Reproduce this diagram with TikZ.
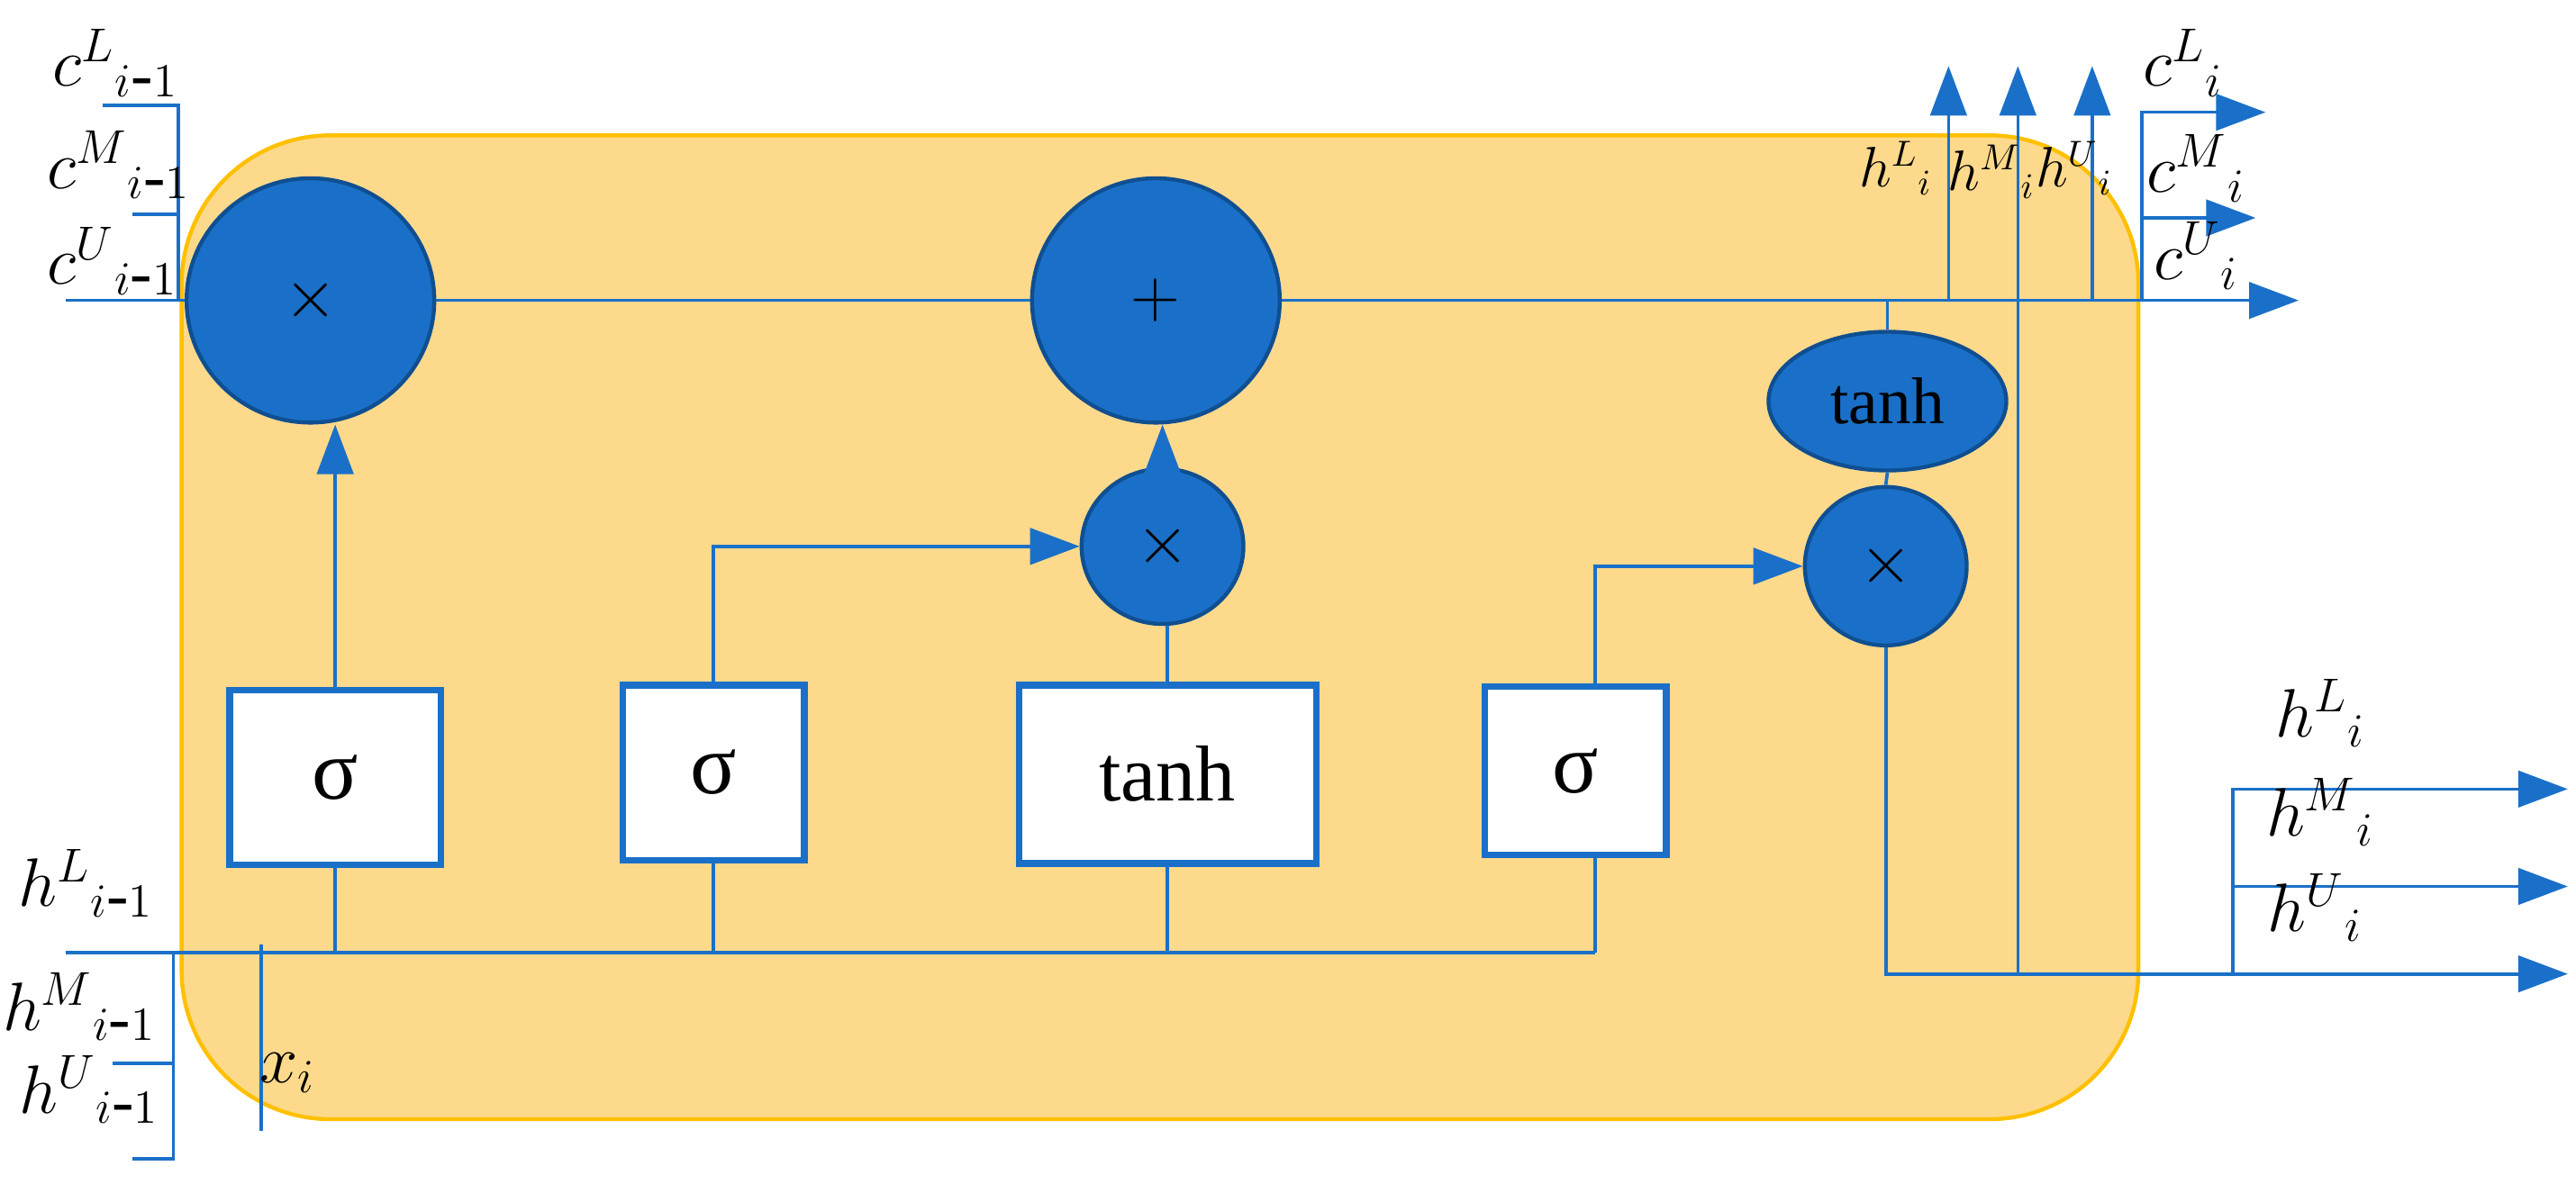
\documentclass[tikz,border=0pt]{standalone}
\usepackage{fontspec}
\setmainfont{Liberation Serif}
\usetikzlibrary{shapes.geometric,arrows.meta}
\definecolor{lblue}{HTML}{1A70C8}
\definecolor{dblue}{HTML}{0F4F91}
\definecolor{cellfill}{HTML}{FDD98C}
\definecolor{celledge}{HTML}{FFC000}
\newcommand{\im}{\mbox{-}1}
\begin{document}
\begin{tikzpicture}[x=0.5pt,y=-0.5pt,
  font=\fontsize{20}{24}\selectfont,
  wire/.style={lblue,line width=1pt},
  arr/.style={wire,-{Triangle[width=11pt,length=15pt]}},
  op/.style={ellipse,draw=dblue,line width=1.2pt,fill=lblue,inner sep=0pt},
  gate/.style={draw=lblue,line width=2pt,fill=white,inner sep=0pt},
  lbl/.style={inner sep=0pt},
  slbl/.style={inner sep=0pt,font=\fontsize{16}{19}\selectfont}]
\useasboundingbox (0,0) rectangle (1560,717);
% cell body
\draw[celledge,fill=cellfill,line width=1.2pt,rounded corners=45pt] (110,82) rectangle (1295,678);

% operators
\node (mul1) [op,minimum width=75pt,minimum height=74pt] at (188,182) {$\times$};
\node (add) [op,minimum width=75pt,minimum height=74pt] at (700,182) {$+$};
\node (mul2) [op,minimum width=49pt,minimum height=47pt] at (704,331) {$\times$};
\node (th2) [op,minimum width=72pt,minimum height=42pt] at (1143,243) {tanh};
\node (mul3) [op,minimum width=49pt,minimum height=48pt] at (1142,343) {$\times$};

% gates
\node (s1) [gate,minimum width=64pt,minimum height=53pt] at (203,471) {\fontsize{26}{30}\selectfont σ};
\node (s2) [gate,minimum width=55pt,minimum height=53pt] at (432,468) {\fontsize{26}{30}\selectfont σ};
\node (th1) [gate,minimum width=90pt,minimum height=54pt] at (707,469) {\fontsize{24}{28}\selectfont tanh};
\node (s3) [gate,minimum width=55pt,minimum height=51pt] at (954,467) {\fontsize{26}{30}\selectfont σ};

% coordinates
\coordinate (cin) at (40,182);
\coordinate (cLin) at (62,64);
\coordinate (cMin) at (80,130);
\coordinate (cout) at (1392,182);
\coordinate (cbr) at (1297,182);
\coordinate (cLout) at (1372,68);
\coordinate (cMout) at (1366,132);
\coordinate (hin) at (40,577);
\coordinate (hMin) at (68,644);
\coordinate (hUin) at (80,702);
\coordinate (hend) at (966,577);
\coordinate (xtop) at (158,572);
\coordinate (xbot) at (158,685);
\coordinate (hcorner) at (1155,590);
\coordinate (hout) at (1555,590);
\coordinate (hLout) at (1555,478);
\coordinate (hMout) at (1555,537);
\coordinate (upL) at (1180,40);
\coordinate (upM) at (1222,40);
\coordinate (upU) at (1267,40);

% cell state line
\draw[wire] (cLin) -| (108,182);
\draw[wire] (cMin) -- (108,130);
\draw[wire] (cin) -- (mul1);
\draw[wire] (mul1) -- (add);
\draw[arr] (add) -- (cout);
\draw[arr] (cbr) |- (cLout);
\draw[arr] (1297,132) -- (cMout);

% input line
\draw[wire] (hin) -- (hend);
\draw[wire] (105,577) |- (hUin);
\draw[wire] (105,644) -- (hMin);
\draw[wire] (xtop) -- (xbot);
\draw[wire] (s1.south) -- (s1.south |- hin);
\draw[wire] (s2.south) -- (s2.south |- hin);
\draw[wire] (th1.south) -- (th1.south |- hin);
\draw[wire] (hend) -- (hend |- s3.south);

% gates to operators
\draw[arr] (s1.north) -- (mul1.south -| s1.north);
\draw[arr] (s2.north) |- (mul2.west);
\draw[wire] (th1.north) -- (mul2.south -| th1.north);
\draw[arr] (mul2.north) -- (add.south -| mul2.north);
\draw[arr] (s3.north -| hend) |- (mul3.west);
\draw[wire] (mul3.north) -- (th2.south);
\draw[wire] (th2.north) -- (th2.north |- cin);

% hidden outputs
\draw[wire] (mul3.south) -- (mul3.south |- hcorner) -- (hcorner);
\draw[arr] (hcorner) -- (hout);
\draw[arr] (1352,590) |- (hLout);
\draw[arr] (1352,537) -- (hMout);
\draw[arr] (1180,182) -- (upL);
\draw[arr] (1222,590) -- (upM);
\draw[arr] (1267,182) -- (upU);

% labels
\node[lbl] (lc1) at (70,38) {$c^{L}{}_{i\im}$};
\node[lbl] (lc2) at (72,100) {$c^{M}{}_{i\im}$};
\node[lbl] (lc3) at (68,158) {$c^{U}{}_{i\im}$};
\node[lbl] (lh1) at (52,535) {$h^{L}{}_{i\im}$};
\node[lbl] (lh2) at (48,610) {$h^{M}{}_{i\im}$};
\node[lbl] (lh3) at (54,660) {$h^{U}{}_{i\im}$};
\node[lbl] (lx) at (174,650) {$x_i$};
\node[slbl] (lhL) at (1148,102) {$h^{L}{}_{i}$};
\node[slbl] (lhM) at (1206,104) {$h^{M}{}_{i}$};
\node[slbl] (lhU) at (1256,102) {$h^{U}{}_{i}$};
\node[lbl] (lcL) at (1322,38) {$c^{L}{}_{i}$};
\node[lbl] (lcM) at (1330,102) {$c^{M}{}_{i}$};
\node[lbl] (lcU) at (1330,155) {$c^{U}{}_{i}$};
\node[lbl] (lhL2) at (1405,432) {$h^{L}{}_{i}$};
\node[lbl] (lhM2) at (1405,492) {$h^{M}{}_{i}$};
\node[lbl] (lhU2) at (1402,550) {$h^{U}{}_{i}$};
\end{tikzpicture}
\end{document}
